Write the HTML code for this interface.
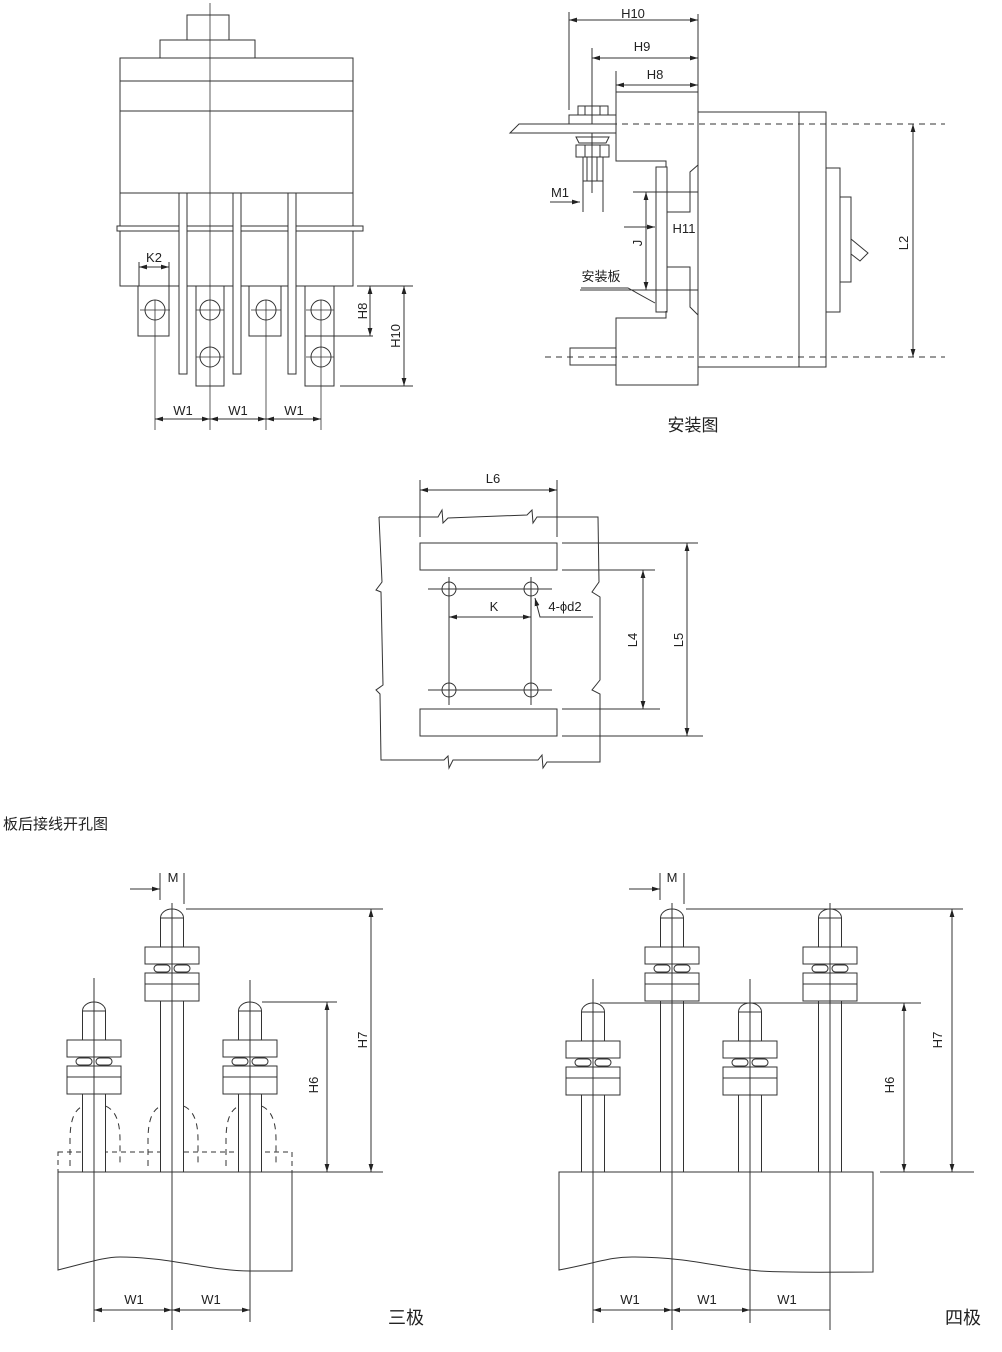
<!DOCTYPE html>
<html><head><meta charset="utf-8"><style>
html,body{margin:0;padding:0;background:#fff}
svg{display:block}
text{font-family:"Liberation Sans","Noto Sans CJK SC",sans-serif;fill:#222}
</style></head><body>
<svg width="1002" height="1352" viewBox="0 0 1002 1352" xmlns="http://www.w3.org/2000/svg">
<defs>
<marker id="a" viewBox="0 0 10 6" refX="10" refY="3" markerWidth="8" markerHeight="5" orient="auto-start-reverse" markerUnits="userSpaceOnUse"><path d="M0,0 L10,3 L0,6 Z" fill="#222"/></marker>
<g id="pole">
<path d="M-11.5,9 A11.5,9 0 0 1 11.5,9 Z" fill="#fff" stroke="#333"/>
<rect x="-11.5" y="9" width="23" height="29" fill="#fff" stroke="#333"/>
<rect x="-27" y="38" width="54" height="17" fill="#fff" stroke="#333"/>
<rect x="-18" y="56" width="16" height="7" rx="3.5" fill="#fff" stroke="#333"/>
<rect x="2" y="56" width="16" height="7" rx="3.5" fill="#fff" stroke="#333"/>
<rect x="-27" y="64" width="54" height="28" fill="#fff" stroke="#333"/>
<line x1="-27" y1="75" x2="27" y2="75" stroke="#333"/>
</g>
</defs>
<g fill="none" stroke="#333" stroke-width="1">
<!-- ===== Top-left front view ===== -->
<rect x="187" y="15" width="42" height="25"/>
<rect x="160" y="40" width="95" height="18"/>
<rect x="120" y="58" width="233" height="135"/>
<line x1="120" y1="81" x2="353" y2="81"/>
<line x1="120" y1="111" x2="353" y2="111"/>
<rect x="120" y="193" width="233" height="93"/>
<rect x="117" y="226" width="246" height="5" fill="#fff"/>
<rect x="179" y="193" width="8" height="181" fill="#fff"/>
<rect x="233" y="193" width="8" height="181" fill="#fff"/>
<rect x="288" y="193" width="8" height="181" fill="#fff"/>
<rect x="138" y="286" width="31" height="50"/>
<rect x="196" y="286" width="28" height="100"/>
<rect x="249" y="286" width="32" height="50"/>
<rect x="305" y="286" width="29" height="100"/>
<line x1="305" y1="336" x2="373" y2="336"/>
<circle cx="155" cy="310" r="10"/><circle cx="210" cy="310" r="10"/><circle cx="210" cy="357" r="10"/>
<circle cx="266" cy="310" r="10"/><circle cx="321" cy="310" r="10"/><circle cx="321" cy="357" r="10"/>
<g stroke-width="0.8">
<line x1="210" y1="3" x2="210" y2="430"/>
<line x1="155" y1="300" x2="155" y2="430"/><line x1="266" y1="300" x2="266" y2="430"/><line x1="321" y1="300" x2="321" y2="430"/>
<line x1="140" y1="310" x2="170" y2="310"/><line x1="196" y1="310" x2="224" y2="310"/><line x1="196" y1="357" x2="224" y2="357"/>
<line x1="251" y1="310" x2="281" y2="310"/><line x1="306" y1="310" x2="334" y2="310"/><line x1="306" y1="357" x2="334" y2="357"/>
</g>
<line x1="139" y1="262" x2="139" y2="286"/><line x1="169" y1="262" x2="169" y2="286"/>
<line x1="139" y1="267" x2="169" y2="267" marker-start="url(#a)" marker-end="url(#a)"/>
<line x1="357" y1="286" x2="413" y2="286"/><line x1="340" y1="386" x2="413" y2="386"/>
<line x1="370" y1="286" x2="370" y2="336" marker-start="url(#a)" marker-end="url(#a)"/>
<line x1="404" y1="286" x2="404" y2="386" marker-start="url(#a)" marker-end="url(#a)"/>
<line x1="155" y1="419" x2="210" y2="419" marker-start="url(#a)" marker-end="url(#a)"/>
<line x1="210" y1="419" x2="266" y2="419" marker-start="url(#a)" marker-end="url(#a)"/>
<line x1="266" y1="419" x2="321" y2="419" marker-start="url(#a)" marker-end="url(#a)"/>

<!-- ===== Top-right side view ===== -->
<line x1="569" y1="12" x2="569" y2="110"/><line x1="698" y1="14" x2="698" y2="92"/>
<line x1="592" y1="48" x2="592" y2="193"/><line x1="616" y1="71" x2="616" y2="92"/>
<line x1="569" y1="20" x2="698" y2="20" marker-start="url(#a)" marker-end="url(#a)"/>
<line x1="592" y1="58" x2="698" y2="58" marker-start="url(#a)" marker-end="url(#a)"/>
<line x1="616" y1="85" x2="698" y2="85" marker-start="url(#a)" marker-end="url(#a)"/>
<path d="M616,133 L616,92 L698,92 L698,385 L616,385 L616,318 L666,318 L666,311"/>
<path d="M616,133 L616,161 L666,161 L666,167"/>
<path d="M698,165 L690,172 L690,212 L667,212"/>
<path d="M667,267 L690,267 L690,307 L698,315"/>
<rect x="656" y="167" width="11" height="145"/>
<line x1="633" y1="192" x2="698" y2="192"/><line x1="580" y1="290" x2="698" y2="290"/>
<line x1="646" y1="192" x2="646" y2="290" marker-start="url(#a)" marker-end="url(#a)"/>
<line x1="624" y1="227" x2="655" y2="227" marker-end="url(#a)"/>
<path d="M581,288 L628,288 L655,303"/>
<rect x="698" y="112" width="128" height="255"/>
<line x1="799" y1="112" x2="799" y2="367"/>
<path d="M826,168 L840,168 L840,312 L826,312"/>
<rect x="840" y="197" width="11" height="85"/>
<path d="M851,239 L868,253 L860,261 L851,254"/>
<rect x="570" y="348" width="46" height="17"/>
<path d="M510,133 L519,124 L616,124 L616,133 Z" fill="#fff"/>
<rect x="569" y="115" width="47" height="9"/>
<rect x="578" y="106" width="30" height="9"/>
<line x1="585" y1="106" x2="585" y2="115"/><line x1="600" y1="106" x2="600" y2="115"/>
<path d="M576,137 L609,137 L606,143 L579,143 Z"/>
<rect x="576" y="145" width="33" height="12"/>
<line x1="585" y1="145" x2="585" y2="157"/><line x1="600" y1="145" x2="600" y2="157"/>
<rect x="583" y="157" width="20" height="24"/>
<line x1="587" y1="157" x2="587" y2="181"/><line x1="597" y1="157" x2="597" y2="181"/>
<line x1="583" y1="181" x2="583" y2="212"/><line x1="603" y1="181" x2="603" y2="212"/>
<line x1="550" y1="202" x2="580" y2="202" marker-end="url(#a)"/>
<line x1="545" y1="124" x2="945" y2="124" stroke-dasharray="6,5"/>
<line x1="545" y1="357" x2="945" y2="357" stroke-dasharray="6,5"/>
<line x1="913" y1="124" x2="913" y2="357" marker-start="url(#a)" marker-end="url(#a)"/>

<!-- ===== Middle cutout ===== -->
<line x1="420" y1="480" x2="420" y2="537"/><line x1="557" y1="480" x2="557" y2="537"/>
<line x1="420" y1="490" x2="557" y2="490" marker-start="url(#a)" marker-end="url(#a)"/>
<path d="M379,517 L438,517 L442,510 L443,523 L448,518 L527,515 L532,510 L533,523 L537,517 L598,517 L599,582 L592,592 L600,597 L600,680 L592,690 L600,694 L600,762 L547,762 L543,768 L542,755 L538,760 L453,760 L449,768 L448,756 L444,760 L381,760 L380,694 L376,690 L383,685 L381,592 L376,590 L382,582 L379,517"/>
<rect x="420" y="543" width="137" height="27"/>
<rect x="420" y="709" width="137" height="27"/>
<line x1="562" y1="543" x2="698" y2="543"/><line x1="562" y1="570" x2="655" y2="570"/>
<line x1="562" y1="709" x2="660" y2="709"/><line x1="562" y1="736" x2="703" y2="736"/>
<line x1="643" y1="570" x2="643" y2="709" marker-start="url(#a)" marker-end="url(#a)"/>
<line x1="687" y1="543" x2="687" y2="736" marker-start="url(#a)" marker-end="url(#a)"/>
<circle cx="449" cy="589" r="7"/><circle cx="531" cy="589" r="7"/><circle cx="449" cy="690" r="7"/><circle cx="531" cy="690" r="7"/>
<line x1="428" y1="589" x2="552" y2="589"/><line x1="428" y1="690" x2="552" y2="690"/>
<line x1="449" y1="577" x2="449" y2="705"/><line x1="531" y1="577" x2="531" y2="705"/>
<line x1="449" y1="617" x2="531" y2="617" marker-start="url(#a)" marker-end="url(#a)"/>
<path d="M593,617 L540,617 L535,598" marker-end="url(#a)"/>

<!-- ===== Bottom-left 三极 ===== -->
<rect x="58" y="1152" width="234" height="20" stroke-dasharray="5,4"/>
<path d="M58,1172 L58,1270 C90,1262 105,1257 120,1257 C170,1257 210,1271 250,1271 L292,1271 L292,1172" />
<line x1="58" y1="1172" x2="383" y2="1172"/>
<g stroke-dasharray="6,5">
<path d="M70,1166 L70,1140 C70,1110 80,1104 94,1104 C108,1104 120,1110 120,1140 L120,1166"/>
<path d="M148,1166 L148,1140 C148,1110 158,1104 172,1104 C186,1104 198,1110 198,1140 L198,1166"/>
<path d="M226,1166 L226,1140 C226,1110 236,1104 250,1104 C264,1104 276,1110 276,1140 L276,1166"/>
</g>
<use href="#pole" x="94" y="1002"/><rect x="82.5" y="1094" width="23" height="78" fill="#fff"/>
<use href="#pole" x="172" y="909"/><rect x="160.5" y="1001" width="23" height="171" fill="#fff"/>
<use href="#pole" x="250" y="1002"/><rect x="238.5" y="1094" width="23" height="78" fill="#fff"/>
<line x1="94" y1="978" x2="94" y2="1322"/><line x1="172" y1="903" x2="172" y2="1330"/><line x1="250" y1="980" x2="250" y2="1322"/>
<line x1="160" y1="873" x2="160" y2="900"/><line x1="184" y1="873" x2="184" y2="904"/>
<line x1="130" y1="889" x2="160" y2="889" marker-end="url(#a)"/>
<line x1="186" y1="909" x2="383" y2="909"/><line x1="262" y1="1002" x2="337" y2="1002"/>
<line x1="327" y1="1002" x2="327" y2="1172" marker-start="url(#a)" marker-end="url(#a)"/>
<line x1="371" y1="909" x2="371" y2="1172" marker-start="url(#a)" marker-end="url(#a)"/>
<line x1="94" y1="1310" x2="172" y2="1310" marker-start="url(#a)" marker-end="url(#a)"/>
<line x1="172" y1="1310" x2="250" y2="1310" marker-start="url(#a)" marker-end="url(#a)"/>

<!-- ===== Bottom-right 四极 ===== -->
<path d="M559,1172 L559,1270 C600,1262 610,1257 632,1257 C690,1257 720,1268 760,1271 C790,1273 830,1272 873,1272 L873,1172 Z"/>
<line x1="880" y1="1172" x2="974" y2="1172"/>
<use href="#pole" x="593" y="1003"/><rect x="581.5" y="1095" width="23" height="77" fill="#fff"/>
<use href="#pole" x="672" y="909"/><rect x="660.5" y="1001" width="23" height="171" fill="#fff"/>
<use href="#pole" x="750" y="1003"/><rect x="738.5" y="1095" width="23" height="77" fill="#fff"/>
<use href="#pole" x="830" y="909"/><rect x="818.5" y="1001" width="23" height="171" fill="#fff"/>
<line x1="593" y1="979" x2="593" y2="1323"/><line x1="672" y1="903" x2="672" y2="1330"/>
<line x1="750" y1="979" x2="750" y2="1323"/><line x1="830" y1="903" x2="830" y2="1330"/>
<line x1="660" y1="873" x2="660" y2="900"/><line x1="684" y1="873" x2="684" y2="904"/>
<line x1="629" y1="889" x2="660" y2="889" marker-end="url(#a)"/>
<line x1="686" y1="909" x2="963" y2="909"/><line x1="600" y1="1003" x2="921" y2="1003"/>
<line x1="904" y1="1003" x2="904" y2="1172" marker-start="url(#a)" marker-end="url(#a)"/>
<line x1="952" y1="909" x2="952" y2="1172" marker-start="url(#a)" marker-end="url(#a)"/>
<line x1="593" y1="1310" x2="672" y2="1310" marker-start="url(#a)" marker-end="url(#a)"/>
<line x1="672" y1="1310" x2="750" y2="1310" marker-start="url(#a)" marker-end="url(#a)"/>
<line x1="750" y1="1310" x2="830" y2="1310"/>
</g>
<g font-size="13" text-anchor="middle">
<text x="154" y="262">K2</text>
<text x="183" y="415">W1</text><text x="238" y="415">W1</text><text x="294" y="415">W1</text>
<text transform="translate(367,311) rotate(-90)">H8</text>
<text transform="translate(400,336) rotate(-90)">H10</text>
<text x="633" y="18">H10</text><text x="642" y="51">H9</text><text x="655" y="79">H8</text>
<text x="560" y="197">M1</text><text x="684" y="233">H11</text>
<text transform="translate(642,243) rotate(-90)">J</text>
<text x="601" y="281">安装板</text>
<text transform="translate(908,243) rotate(-90)">L2</text>
<text x="493" y="483">L6</text><text x="494" y="611">K</text><text x="565" y="611">4-ϕd2</text>
<text transform="translate(637,640) rotate(-90)">L4</text>
<text transform="translate(683,640) rotate(-90)">L5</text>
<text x="173" y="882">M</text><text x="672" y="882">M</text>
<text transform="translate(318,1085) rotate(-90)">H6</text>
<text transform="translate(367,1040) rotate(-90)">H7</text>
<text transform="translate(894,1085) rotate(-90)">H6</text>
<text transform="translate(942,1040) rotate(-90)">H7</text>
<text x="134" y="1304">W1</text><text x="211" y="1304">W1</text>
<text x="630" y="1304">W1</text><text x="707" y="1304">W1</text><text x="787" y="1304">W1</text>
</g>
<text x="693" y="431" font-size="17" text-anchor="middle">安装图</text>
<text x="3" y="829" font-size="15">板后接线开孔图</text>
<text x="406" y="1324" font-size="18" text-anchor="middle">三极</text>
<text x="963" y="1324" font-size="18" text-anchor="middle">四极</text>
</svg>
</body></html>
